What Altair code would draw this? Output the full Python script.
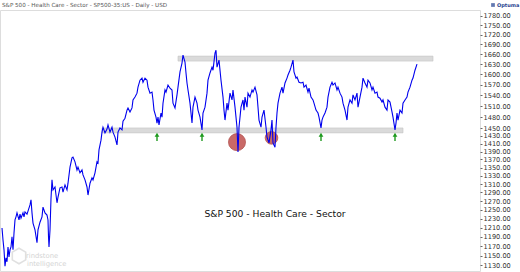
import altair as alt
import pandas as pd

# trading-day index and closing level
days = [4,6,8,10,12,14,16,18,20,22,24,26,28,30,32,34,38,40,42,46,48,50,54,56,60,62,64,66,70,74,
        76,80,84,86,90,94,96,97,98,100,102,104,106,110,114,116,120,124,126,130,134,136,140,144,146,150,154,156,160,164,
        166,170,174,176,180,184,186,190,194,196,198,202,204,206,210,214,216,220,224,226,230,234,236,240,244,246,250,254,256,260,
        264,266,270,274,276,280,284,286,290,294,296,300,304,306,308,312,314,316,318,322,324,326,330,332,336,340,344,346,350,354,
        356,360,364,366,370,372,374,376,380,384,386,390,394,396,400,404,406,410,414,416,420,424,426,430,432,434,438,442,446,448,
        450,454,456,460,464,466,470,474,476,478,482,486,488,490,494,496,500,504,506,510,514,516,518,522,524,528,532,534,538,542,
        544,546,550,552,554,556,560,564,566,570,574,576,580,582,586,588,592,594,598,602,606,608,612,616,618,622,626,628,632,636,
        638,642,644,646,650,654,656,660,664,666,670,674,676,680,684,686,690,694,696,700,704,706,710,714,716,720,724,726,730,734,
        736,740,744,746,750,754,756,760,764,766,770,774,776,780,784,786,790,792,794,796,800,804,806,810,814,816,820,824,826,830,834]
close = [1209,1183,1162,1128,1145,1137,1168,1147,1162,1168,1190,1162,1198,1227,1234,1243,1227,1240,1231,1243,1234,1245,1240,1247,1261,1273,1243,1220,1205,1177,
         1205,1222,1234,1256,1243,1238,1227,1190,1168,1205,1276,1320,1296,1303,1266,1279,1301,1303,1291,1308,1296,1312,1351,1374,1376,1364,1344,1351,1337,1344,
         1332,1320,1303,1284,1312,1325,1320,1337,1364,1361,1394,1419,1440,1453,1438,1448,1459,1440,1453,1440,1427,1407,1440,1451,1446,1469,1477,1499,1505,1494,
         1505,1527,1535,1546,1563,1583,1589,1577,1589,1583,1563,1546,1549,1527,1499,1480,1464,1480,1459,1491,1480,1518,1555,1549,1569,1560,1555,1518,1505,1541,
         1563,1607,1633,1657,1636,1604,1575,1555,1518,1464,1507,1535,1518,1499,1480,1446,1491,1507,1546,1583,1604,1621,1612,1663,1672,1621,1642,1583,1535,1499,
         1472,1518,1499,1546,1527,1555,1507,1453,1389,1453,1507,1527,1499,1535,1507,1546,1535,1555,1549,1563,1541,1507,1472,1453,1480,1499,1453,1427,1412,1446,
         1472,1412,1401,1453,1491,1518,1546,1563,1546,1575,1589,1598,1612,1621,1642,1607,1589,1592,1577,1575,1577,1563,1569,1549,1560,1535,1527,1518,1499,1491,
         1480,1451,1472,1480,1491,1507,1535,1563,1577,1569,1575,1555,1563,1546,1535,1518,1499,1472,1507,1527,1518,1541,1527,1546,1507,1535,1563,1589,1575,1563,
         1583,1575,1555,1563,1546,1549,1535,1532,1521,1527,1507,1499,1527,1521,1494,1480,1446,1464,1491,1472,1499,1491,1518,1527,1535,1549,1563,1583,1589,1612,1630]

tick_values = [1130,1150,1170,1190,1210,1230,1250,1270,1290,1310,1330,1350,1370,1390,1410,1430,
               1450,1480,1510,1540,1570,1600,1630,1660,1690,1720,1750,1780]

band_start = [356, 204]
band_end = [866, 806]
band_low = [1639, 1438]
band_high = [1654, 1451]

arrow_days = [314, 404, 642, 790]
arrow_tail = [1417, 1417, 1417, 1417]
arrow_head = [1433, 1433, 1433, 1433]

circle_days = [474, 543]
circle_vals = [1414, 1425]
circle_size = [290, 160]

label_day = [550]
label_val = [1240]
label_text = ["S&P 500 - Health Care - Sector"]

chart_title = "S&P 500 - Health Care - Sector - SP500-35:US - Daily - USD"

FONT = "DejaVu Sans"

df = pd.DataFrame({"day": days, "close": close})
bands = pd.DataFrame({"s": band_start, "e": band_end, "lo": band_low, "hi": band_high})
arrows = pd.DataFrame({"day": arrow_days, "tail": arrow_tail, "head": arrow_head})
circles = pd.DataFrame({"day": circle_days, "v": circle_vals, "size": circle_size})
labels = pd.DataFrame({"day": label_day, "v": label_val, "t": label_text})

xs = alt.Scale(domain=[0, 960], nice=False, zero=False)
ys = alt.Scale(type="log", domain=[1118, 1799], nice=False, zero=False)

yaxis = alt.Axis(orient="right", values=tick_values, format=".2f", grid=False, domain=False,
                 tickSize=2, tickColor="#666", labelPadding=1, labelFontSize=6.6, labelFont=FONT,
                 labelColor="#333", title=None, labelOverlap=False)

band_layer = alt.Chart(bands).mark_rect(fill="#dadada", stroke="#c4c4c4", strokeWidth=0.6).encode(
    x=alt.X("s:Q", scale=xs, axis=None), x2="e:Q",
    y=alt.Y("lo:Q", scale=ys, axis=yaxis), y2="hi:Q")

circle_layer = alt.Chart(circles).mark_point(shape="circle", filled=True, fill="#c0504d",
                                             opacity=0.85, stroke="#a83c3a", strokeWidth=0.8).encode(
    x=alt.X("day:Q", scale=xs), y=alt.Y("v:Q", scale=ys),
    size=alt.Size("size:Q", scale=None, legend=None))

line_layer = alt.Chart(df).mark_line(color="#0000ee", strokeWidth=1.1).encode(
    x=alt.X("day:Q", scale=xs), y=alt.Y("close:Q", scale=ys))

shaft = alt.Chart(arrows).mark_rule(color="#1e9a1e", strokeWidth=1.4).encode(
    x=alt.X("day:Q", scale=xs), y=alt.Y("tail:Q", scale=ys), y2="head:Q")
head = alt.Chart(arrows).mark_point(shape="triangle-up", filled=True, color="#1e9a1e",
                                    size=22, opacity=1).encode(
    x=alt.X("day:Q", scale=xs), y=alt.Y("head:Q", scale=ys))

text_layer = alt.Chart(labels).mark_text(font=FONT, fontSize=9.2, color="#111", align="center",
                                          baseline="middle").encode(
    x=alt.X("day:Q", scale=xs), y=alt.Y("v:Q", scale=ys), text="t:N")

title_layer = alt.Chart(labels).mark_text(text=chart_title, font=FONT, fontSize=5.6, color="#555",
                                          align="left", baseline="middle").encode(
    x=alt.value(2), y=alt.value(-5))

hexagon = alt.Chart(labels).mark_point(
    shape="M0,-1L0.866,-0.5L0.866,0.5L0,1L-0.866,0.5L-0.866,-0.5Z",
    filled=False, stroke="#d4d4d4", strokeWidth=1.6, size=240).encode(
    x=alt.value(19), y=alt.value(246))
wm1 = alt.Chart(labels).mark_text(text="rindstone", font=FONT, fontSize=6.8, color="#d4d4d4",
                                   align="left", baseline="middle").encode(
    x=alt.value(26), y=alt.value(246))
wm2 = alt.Chart(labels).mark_text(text="intelligence", font=FONT, fontSize=6.8, color="#d4d4d4",
                                   align="left", baseline="middle").encode(
    x=alt.value(27), y=alt.value(254))
optuma = alt.Chart(labels).mark_text(text="Optuma", font=FONT, fontSize=5, fontWeight="bold",
                                      color="#1f3f8f", align="left", baseline="middle").encode(
    x=alt.value(497), y=alt.value(-5))
optuma_icon = alt.Chart(labels).mark_point(shape="square", filled=True, color="#1f3f8f", size=14).encode(
    x=alt.value(493), y=alt.value(-5))

chart = alt.layer(band_layer, circle_layer, line_layer, shaft, head, text_layer, title_layer,
                  hexagon, wm1, wm2, optuma, optuma_icon).properties(
    width=480, height=261,
    autosize=alt.AutoSizeParams(type="none"),
    padding={"left": 0, "top": 10, "right": 40, "bottom": 1},
).configure_view(stroke="#e6e6e6", strokeWidth=1).configure(background="white")

chart.save("out.html", embed_options={"renderer": "svg", "actions": False})
